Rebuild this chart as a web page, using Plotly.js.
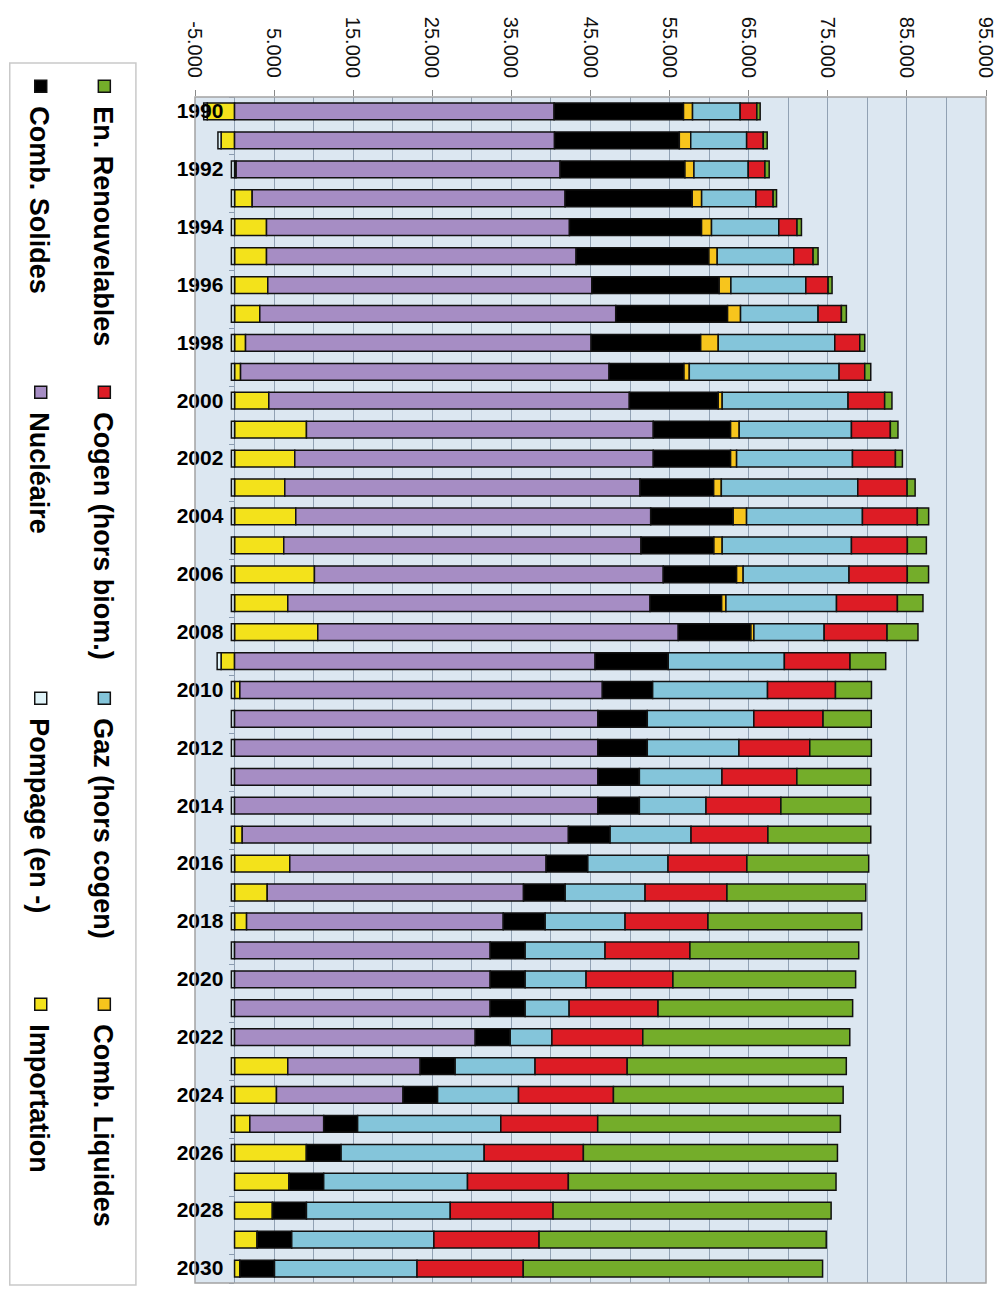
<!DOCTYPE html>
<html>
<head>
<meta charset="utf-8">
<script src="https://cdn.plot.ly/plotly-3.0.1.min.js"></script>
<style>
html,body{margin:0;padding:0;width:998px;height:1291px;overflow:hidden;background:#fff}
#wrap{position:absolute;left:0;top:0;width:1291px;height:998px;transform-origin:0 0;transform:translateX(998px) rotate(90deg);}
#chart{width:1291px;height:998px}
</style>
</head>
<body>
<div id="wrap"><div id="chart"></div></div>
<script>
// Years (categories)
const years = ['1990','1991','1992','1993','1994','1995','1996','1997','1998','1999',
               '2000','2001','2002','2003','2004','2005','2006','2007','2008','2009',
               '2010','2011','2012','2013','2014','2015','2016','2017','2018','2019',
               '2020','2021','2022','2023','2024','2025','2026','2027','2028','2029','2030'];
const yearTicks = ['1990','1992','1994','1996','1998','2000','2002','2004','2006','2008','2010',
                   '2012','2014','2016','2018','2020','2022','2024','2026','2028','2030'];

// Series values (GWh)
const importation = [-3450,-1700,200,2230,4040,4040,4200,3190,1390,760,
                     4330,9090,7610,6350,7740,6220,10100,6730,10520,-1700,
                     670,0,0,0,0,970,6980,4130,1520,0,
                     0,0,0,6730,5300,1930,9090,6900,4800,2870,670];
const pompage = [-450,-400,-400,-400,-400,-400,-400,-400,-400,-400,
                 -400,-400,-400,-400,-400,-400,-400,-400,-400,-500,
                 -400,-400,-400,-400,-400,-400,-400,-400,-400,-400,
                 -400,-400,-400,-400,-400,-400,-400,0,0,0,0];
const nucleaire = [40400,40450,40960,39560,38300,39140,40960,45000,43690,46590,
                   45580,43850,45330,44910,44870,45160,44100,45800,45580,45580,
                   45830,45920,45920,45920,45920,41240,32410,32400,32450,32320,
                   32320,32320,30430,16740,16000,9340,0,0,0,0,0];
const solides = [16360,15780,15780,16070,16700,16790,16110,14140,13850,9470,
                 11240,9770,9770,9310,10430,9220,9270,9050,9180,9250,
                 6360,6260,6260,5260,5260,5270,5270,5270,5300,4420,
                 4420,4420,4420,4420,4370,4290,4380,4370,4290,4360,4380];
const liquides = [1140,1440,1140,1190,1260,1050,1480,1640,2220,670,
                  500,1090,760,970,1690,1050,830,540,380,0,
                  0,0,0,0,0,0,0,0,0,0,
                  0,0,0,0,0,0,0,0,0,0,0];
const gaz = [6020,7070,6860,6860,8500,9680,9470,9800,14730,18940,
             15910,14190,14650,17250,14650,16340,13380,13980,8880,14680,
             14520,13470,11580,10440,8420,10230,10140,10100,10100,10100,
             7700,5560,5270,10100,10230,18100,18090,18180,18180,17970,18020];
const cogen = [2110,2100,2110,2180,2310,2440,2820,2950,3160,3240,
               4630,4920,5430,6240,6940,7070,7370,7700,7950,8300,
               8590,8750,8960,9470,9470,9720,9970,10350,10480,10730,
               10980,11240,11490,11650,12000,12250,12540,12750,13000,13300,13430];
const renouvelables = [420,500,540,430,560,630,500,630,630,760,
                       920,960,880,1010,1430,2400,2690,3230,3910,4510,
                       4550,6100,7790,9340,11360,13000,15400,17550,19440,21340,
                       23100,24600,26170,27700,29040,30680,32120,33840,35150,36300,37840];

// Value axis ticks
const valueTicks = [-5000,5000,15000,25000,35000,45000,55000,65000,75000,85000,95000];
const valueTickText = ['-5.000','5.000','15.000','25.000','35.000','45.000','55.000','65.000','75.000','85.000','95.000'];

const FONT = "'Liberation Sans', Arial, sans-serif";
const outline = {color:'#111111', width:1.5};

function bar(name, vals, color, legendId) {
  return {type:'bar', name:name, x:years, y:vals,
          marker:{color:color, line:outline},
          legend:legendId, hoverinfo:'skip'};
}

const traces = [
  bar('Importation', importation, '#f3e21b', 'legend2'),
  bar('Pompage (en -)', pompage, '#dff3f8', 'legend2'),
  bar('Nucléaire', nucleaire, '#a68dc4', 'legend2'),
  bar('Comb. Solides', solides, '#000000', 'legend2'),
  bar('Comb. Liquides', liquides, '#f7c51d', 'legend'),
  bar('Gaz (hors cogen)', gaz, '#84c5da', 'legend'),
  bar('Cogen (hors biom.)', cogen, '#dd1c25', 'legend'),
  bar('En. Renouvelables', renouvelables, '#74ad2a', 'legend')
];

const legendCommon = {
  orientation:'h', xanchor:'left', yanchor:'middle',
  traceorder:'reversed', entrywidth:261, entrywidthmode:'pixels',
  bgcolor:'rgba(0,0,0,0)', borderwidth:0,
  font:{family:FONT, size:27, color:'#000', weight:'bold'}
};

const gridCol = '#91a1b3';

const layout = {
  width:1291, height:998,
  margin:{l:97, r:8, t:12, b:195, autoexpand:false},
  paper_bgcolor:'#ffffff',
  plot_bgcolor:'#dce7f1',
  barmode:'relative',
  bargap:0.42,
  font:{family:FONT, color:'#000'},
  xaxis:{
    type:'category', range:[-0.5, 40.5],
    anchor:'free', position:0.05,
    tickmode:'array', tickvals:yearTicks, ticktext:yearTicks,
    tickangle:-90, tickson:'boundaries',
    ticks:'outside', ticklen:5, tickcolor:'#8a9bb0',
    ticklabelstandoff:6,
    tickfont:{family:FONT, size:21, color:'#000', weight:'bold'},
    showgrid:false, showline:false, zeroline:false, automargin:false
  },
  yaxis:{
    range:[-5000, 95000],
    tickmode:'array', tickvals:valueTicks, ticktext:valueTickText,
    ticks:'outside', ticklen:6, tickcolor:'#8a8a8a',
    ticklabelstandoff:8,
    tickfont:{family:FONT, size:20, color:'#111'},
    showgrid:true, gridcolor:gridCol, gridwidth:1,
    minor:{tickmode:'linear', tick0:0, dtick:10000, showgrid:true, gridcolor:gridCol, gridwidth:1, ticks:''},
    zeroline:false, showline:false, automargin:false
  },
  legend: Object.assign({x:-0.026, y:-0.1152}, legendCommon),
  legend2: Object.assign({x:-0.026, y:-0.1956}, legendCommon),
  shapes:[
    {type:'rect', xref:'paper', yref:'paper', x0:0, x1:1, y0:0, y1:1,
     line:{color:'#a3a3a3', width:1.5}, fillcolor:'rgba(0,0,0,0)', layer:'above'},
    {type:'rect', xref:'paper', yref:'paper', x0:-0.0287, x1:1.0017, y0:-0.0747, y1:-0.2342,
     line:{color:'#c9c9c9', width:1.5}, fillcolor:'rgba(0,0,0,0)', layer:'above'}
  ],
  showlegend:true
};

Plotly.newPlot('chart', traces, layout, {displayModeBar:false, staticPlot:true});
</script>
</body>
</html>
